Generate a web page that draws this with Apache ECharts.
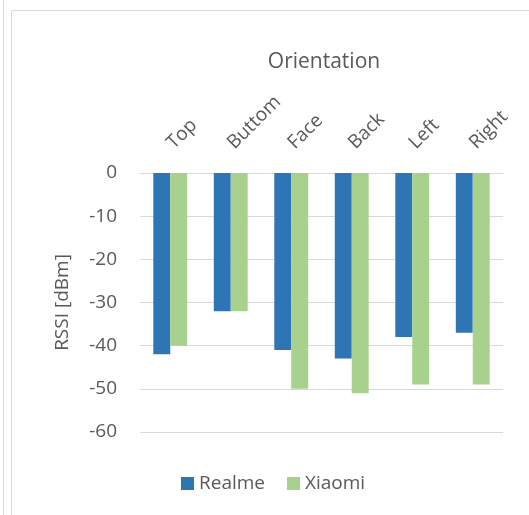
<!DOCTYPE html>
<html>
<head>
<meta charset="utf-8">
<script src="https://cdn.jsdelivr.net/npm/echarts@6/dist/echarts.min.js"></script>
<style>
  html, body { margin: 0; padding: 0; background: #fff; }
  #chart { width: 529px; height: 515px; }
</style>
</head>
<body>
<div id="chart"></div>
<script>
// Data
const orientations = ['Top', 'Buttom', 'Face', 'Back', 'Left', 'Right'];
const realme = [-42, -32, -41, -43, -38, -37];
const xiaomi = [-40, -32, -50, -51, -49, -49];
const yTicks = { min: -60, max: 0, step: 10 };

const textColor = '#595959';
const font = '"Open Sans", sans-serif';

const chart = echarts.init(document.getElementById('chart'));
chart.setOption({
    animation: false,
    textStyle: { fontFamily: font },
    title: {
        text: 'Orientation',
        left: 319,
        textAlign: 'center',
        top: 47,
        textStyle: { fontSize: 21, fontWeight: 'normal', color: textColor, fontFamily: font }
    },
    graphic: [
        { type: 'line', shape: { x1: 3.5, y1: 0, x2: 3.5, y2: 515 }, style: { stroke: '#d9d9d9', lineWidth: 1 } },
        { type: 'polyline', shape: { points: [[11.5, 515], [11.5, 10.5], [529, 10.5]] }, style: { stroke: '#d9d9d9', lineWidth: 1, fill: null } }
    ],
    legend: {
        bottom: 17,
        left: 176,
        itemWidth: 13,
        itemHeight: 13,
        itemGap: 22,
        icon: 'rect',
        textStyle: { fontSize: 19, color: textColor, fontFamily: font },
        data: ['Realme', 'Xiaomi']
    },
    grid: { left: 140, right: 26, top: 173, bottom: 83 },
    xAxis: {
        type: 'category',
        position: 'top',
        data: orientations,
        axisLine: { lineStyle: { color: '#d9d9d9' } },
        axisTick: { show: false },
        axisLabel: { rotate: 45, fontSize: 19, color: textColor, margin: 27 }
    },
    yAxis: {
        type: 'value',
        min: yTicks.min,
        max: yTicks.max,
        interval: yTicks.step,
        name: 'RSSI [dBm]',
        nameLocation: 'middle',
        nameGap: 68,
        nameTextStyle: { fontSize: 19, color: textColor },
        axisLine: { show: false },
        axisTick: { show: false },
        axisLabel: { fontSize: 19, color: textColor, margin: 23 },
        splitLine: { lineStyle: { color: '#d9d9d9', width: 1 } }
    },
    series: [
        {
            name: 'Realme',
            type: 'bar',
            data: realme,
            barGap: '0%',
            barCategoryGap: '44%',
            itemStyle: { color: '#2E75B6' }
        },
        {
            name: 'Xiaomi',
            type: 'bar',
            data: xiaomi,
            itemStyle: { color: '#A9D18E' }
        }
    ]
});
</script>
</body>
</html>
